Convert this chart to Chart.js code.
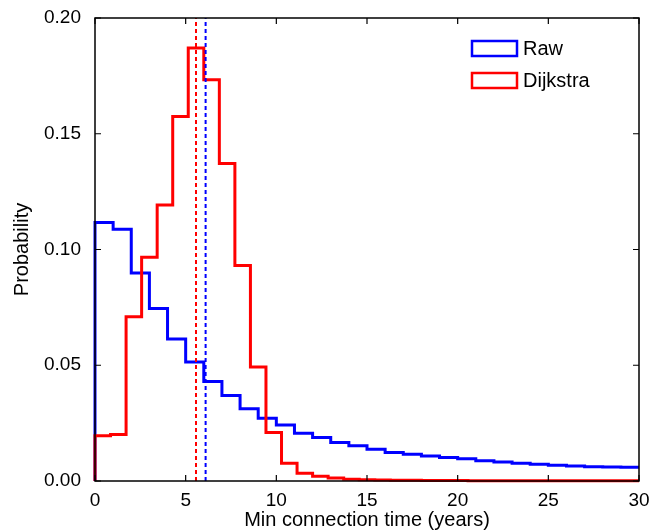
<!DOCTYPE html>
<html>
<head>
<meta charset="utf-8">
<script src="https://cdn.jsdelivr.net/npm/chart.js@4"></script>
<style>
  html, body { margin: 0; padding: 0; background: #fff; }
  #wrap { width: 651px; height: 532px; }
</style>
</head>
<body>
<div id="wrap"><canvas id="c" width="651" height="532"></canvas></div>
<script>
// histogram of min connection time, raw vs dijkstra
const rawBinWidth = 1;
const dijkstraBinWidth = 30 / 35;

const rawProb = [0.1117, 0.1087, 0.0899, 0.0745, 0.0613, 0.0514, 0.0430, 0.0369, 0.0312, 0.0271,
                 0.0242, 0.0206, 0.0188, 0.0166, 0.0152, 0.0137, 0.0123, 0.0116, 0.0108, 0.0101,
                 0.0096, 0.0088, 0.0082, 0.0077, 0.0072, 0.0068, 0.0065, 0.0062, 0.0061, 0.0059];

const dijkstraProb = [0.0196, 0.0201, 0.0709, 0.0967, 0.1192, 0.1574, 0.1870, 0.1733, 0.1372, 0.0931,
                      0.0492, 0.0209, 0.0077, 0.0033, 0.0021, 0.0013, 0.0008, 0.0005, 0.0004, 0.0003,
                      0.0003, 0.0002, 0.0002, 0.0002, 0.0001, 0.0001, 0.0001, 0.0001, 0.0001, 0.0001,
                      0.0001, 0.0001, 0.0001, 0.0001, 0.0001];

const rawMean = 6.1;
const dijkstraMean = 5.57;

const xTicks = [0, 5, 10, 15, 20, 25, 30];
const yTicks = [0, 0.05, 0.10, 0.15, 0.20];

const FONT = "'Liberation Sans', Arial, Helvetica, sans-serif";

function stepPoints(vals, w) {
  const pts = [{x: 0, y: 0}];
  vals.forEach((v, i) => pts.push({x: i * w, y: v}));
  pts.push({x: vals.length * w, y: vals[vals.length - 1]});
  return pts;
}

// frame, inward ticks and legend
const framePlugin = {
  id: 'frame',
  afterDatasetsDraw(chart) {
    const {ctx, chartArea: a, scales: {x, y}} = chart;
    ctx.save();
    ctx.strokeStyle = '#000';
    ctx.lineWidth = 1.5;
    ctx.strokeRect(a.left, a.top, a.right - a.left, a.bottom - a.top);
    ctx.lineWidth = 1.2;
    ctx.beginPath();
    const tl = 6;
    xTicks.forEach(t => {
      const px = x.getPixelForValue(t);
      ctx.moveTo(px, a.bottom); ctx.lineTo(px, a.bottom - tl);
      ctx.moveTo(px, a.top); ctx.lineTo(px, a.top + tl);
    });
    yTicks.forEach(t => {
      const py = y.getPixelForValue(t);
      ctx.moveTo(a.left, py); ctx.lineTo(a.left + tl, py);
      ctx.moveTo(a.right, py); ctx.lineTo(a.right - tl, py);
    });
    ctx.stroke();

    // legend
    const items = chart.data.datasets.filter(d => d.showInLegend);
    items.forEach((d, i) => {
      const bx = 472, by = 41 + i * 32;
      ctx.strokeStyle = d.borderColor;
      ctx.lineWidth = 2.5;
      ctx.strokeRect(bx, by, 45, 15);
      ctx.fillStyle = '#000';
      ctx.font = '20px ' + FONT;
      ctx.textBaseline = 'middle';
      ctx.fillText(d.label, bx + 51, by + 8);
    });
    ctx.restore();
  }
};

new Chart(document.getElementById('c'), {
  type: 'line',
  data: {
    datasets: [
      {
        label: 'Raw', showInLegend: true,
        data: stepPoints(rawProb, rawBinWidth),
        borderColor: '#0000ff', borderWidth: 3, stepped: 'before',
        pointRadius: 0, fill: false, clip: 4, order: 3
      },
      {
        label: 'Dijkstra', showInLegend: true,
        data: stepPoints(dijkstraProb, dijkstraBinWidth),
        borderColor: '#ff0000', borderWidth: 3, stepped: 'before',
        pointRadius: 0, fill: false, clip: 4, order: 2
      },
      {
        label: 'Raw mean',
        data: [{x: rawMean, y: 0}, {x: rawMean, y: 0.2}],
        borderColor: '#0000ff', borderWidth: 2, borderDash: [4, 3],
        pointRadius: 0, fill: false, order: 1
      },
      {
        label: 'Dijkstra mean',
        data: [{x: dijkstraMean, y: 0}, {x: dijkstraMean, y: 0.2}],
        borderColor: '#ff0000', borderWidth: 2, borderDash: [4, 3],
        pointRadius: 0, fill: false, order: 1
      }
    ]
  },
  options: {
    responsive: false,
    animation: false,
    layout: { padding: { top: 18, right: 12, left: 10, bottom: 0 } },
    plugins: { legend: { display: false }, tooltip: { enabled: false } },
    scales: {
      x: {
        type: 'linear', min: 0, max: 30,
        grid: { display: false }, border: { display: false },
        afterBuildTicks: s => { s.ticks = xTicks.map(v => ({value: v})); },
        afterFit: s => { s.height = 51; },
        ticks: { color: '#000', font: { family: FONT, size: 19 }, padding: 0, maxRotation: 0 },
        title: { display: true, text: 'Min connection time (years)', color: '#000',
                 font: { family: FONT, size: 20 }, padding: { top: 2, bottom: 0 } }
      },
      y: {
        type: 'linear', min: 0, max: 0.2,
        grid: { display: false }, border: { display: false },
        afterBuildTicks: s => { s.ticks = yTicks.map(v => ({value: v})); },
        afterFit: s => { s.width = 85; },
        ticks: { color: '#000', font: { family: FONT, size: 19 }, padding: 6,
                 callback: v => v.toFixed(2) },
        title: { display: true, text: 'Probability', color: '#000',
                 font: { family: FONT, size: 20 }, padding: { top: 0, bottom: 4 } }
      }
    }
  },
  plugins: [framePlugin]
});
</script>
</body>
</html>
